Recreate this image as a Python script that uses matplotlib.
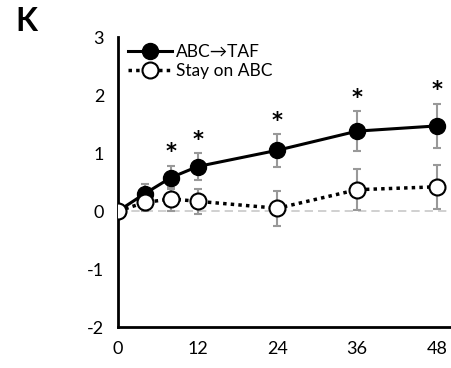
import matplotlib
matplotlib.use("Agg")
import matplotlib.pyplot as plt

weeks = [0, 4, 8, 12, 24, 36, 48]
taf_mean = [0.0, 0.30, 0.58, 0.77, 1.05, 1.38, 1.47]
taf_err = [0.0, 0.16, 0.20, 0.23, 0.28, 0.34, 0.38]
stay_mean = [0.0, 0.15, 0.21, 0.17, 0.05, 0.37, 0.42]
stay_err = [0.0, 0.15, 0.20, 0.22, 0.30, 0.35, 0.38]
star_weeks = [8, 12, 24, 36, 48]
x_ticks = [0, 12, 24, 36, 48]
y_ticks = [-2, -1, 0, 1, 2, 3]

plt.rcParams['font.family'] = ['Lato', 'DejaVu Sans']
plt.rcParams['axes.unicode_minus'] = False

fig = plt.figure(figsize=(4.52, 3.68), dpi=100)
ax = fig.add_axes([0.261, 0.111, 0.735, 0.788])

ax.axhline(0, color='#c8c8c8', lw=1.2, ls=(0, (5, 3)), zorder=0)

ax.errorbar(weeks, taf_mean, yerr=taf_err, fmt='none', ecolor='#999999',
            elinewidth=1.5, capsize=3, capthick=1.5, zorder=1)
ax.errorbar(weeks, stay_mean, yerr=stay_err, fmt='none', ecolor='#999999',
            elinewidth=1.5, capsize=3, capthick=1.5, zorder=1)

ax.plot(weeks, taf_mean, ls='-', lw=2.2, color='black', marker='o',
        markersize=11.5, markerfacecolor='black', markeredgecolor='black',
        label='ABC\u2192TAF', zorder=3)
ax.plot(weeks, stay_mean, ls=(0, (1, 1.2)), lw=2.5, color='black', marker='o',
        markersize=11.5, markerfacecolor='white', markeredgecolor='black',
        markeredgewidth=1.5, label='Stay on ABC', zorder=4)

for w in star_weeks:
    i = weeks.index(w)
    ax.text(w, taf_mean[i] + taf_err[i] + 0.06, '*', ha='center', va='bottom',
            fontsize=15, fontweight='bold', family='DejaVu Sans')

ax.set_xlim(0, 50)
ax.set_ylim(-2, 3)
ax.set_xticks(x_ticks)
ax.set_yticks(y_ticks)
ax.tick_params(length=0, labelsize=13, pad=10)
for s in ['top', 'right']:
    ax.spines[s].set_visible(False)
for s in ['left', 'bottom']:
    ax.spines[s].set_linewidth(2)

ax.legend(loc='upper left', frameon=False,
          fontsize=12.5, handlelength=2.5, handletextpad=0.25,
          borderaxespad=0.0, bbox_to_anchor=(0.01, 1.0), labelspacing=0.15)

fig.text(0.033, 0.915, 'K', fontsize=23, fontweight='bold')

fig.savefig('out.png', dpi=100)
